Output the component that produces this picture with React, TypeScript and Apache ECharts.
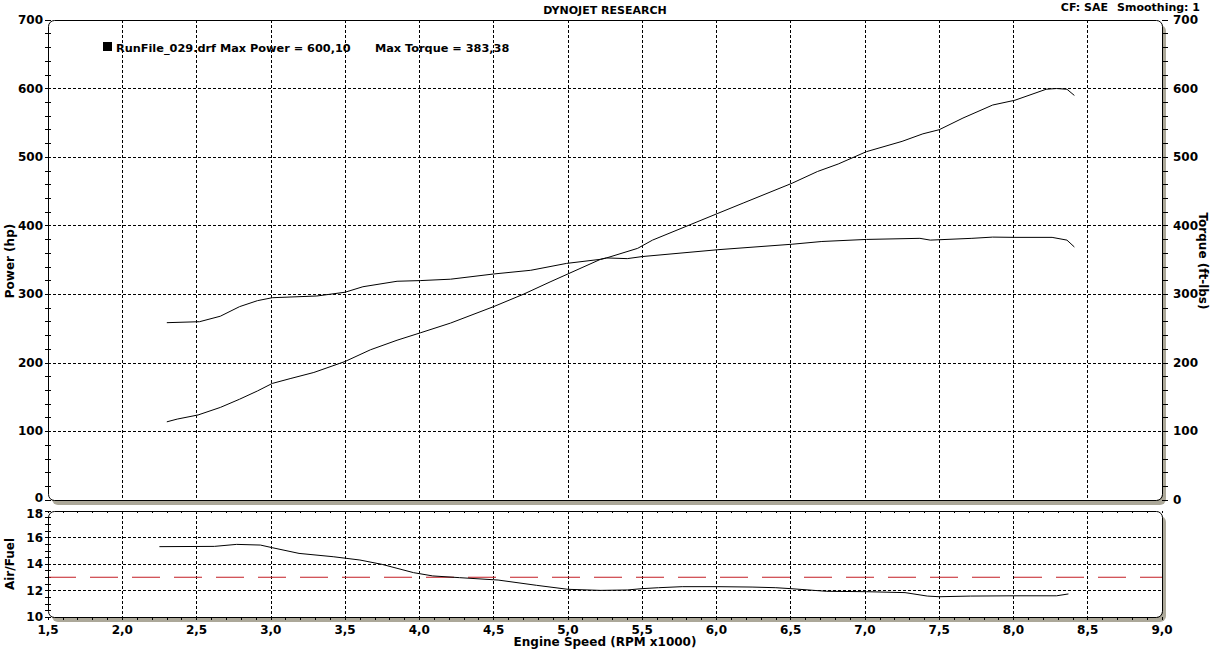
import React, { useEffect, useRef } from "react";
import * as echarts from "echarts";

// ---- data read from the dyno sheet ----
const rpmTicks = [1.5, 2.0, 2.5, 3.0, 3.5, 4.0, 4.5, 5.0, 5.5, 6.0, 6.5, 7.0, 7.5, 8.0, 8.5, 9.0];

const powerRpm = [2.30, 2.37, 2.51, 2.66, 2.79, 2.91, 3.01, 3.13, 3.29, 3.50, 3.67, 3.85, 4.01, 4.21, 4.50, 4.70, 4.88, 5.22, 5.26, 5.47, 5.57, 6.01, 6.18, 6.51, 6.68, 6.82, 7.01, 7.25, 7.39, 7.50, 7.66, 7.86, 8.01, 8.22, 8.29, 8.36, 8.41];
const powerHp = [114, 118, 124, 135, 147, 159, 170, 177, 186, 202, 219, 233, 244, 258, 282, 300, 318, 351, 353, 367, 379, 418, 433, 462, 479, 490, 508, 523, 534, 540, 557, 576, 583, 599, 600.1, 599, 590];

const torqueRpm = [2.30, 2.52, 2.66, 2.79, 2.91, 3.01, 3.31, 3.50, 3.62, 3.85, 4.01, 4.21, 4.50, 4.75, 4.99, 5.22, 5.26, 5.40, 5.50, 6.01, 6.51, 6.71, 7.01, 7.37, 7.44, 7.72, 7.86, 8.01, 8.26, 8.36, 8.41];
const torqueLbFt = [258.6, 260, 268, 282, 290.7, 295, 297.5, 303, 311, 319, 320, 322, 329.6, 335, 345, 351, 353, 352, 355, 365, 373, 377, 380, 381.6, 379, 381.6, 383.4, 383, 383, 379, 369];

const afrRpm = [2.25, 2.62, 2.77, 2.93, 3.01, 3.19, 3.42, 3.60, 3.75, 3.96, 4.09, 4.27, 4.53, 4.79, 5.00, 5.22, 5.40, 5.50, 5.61, 5.77, 6.01, 6.24, 6.40, 6.50, 6.74, 7.01, 7.27, 7.42, 7.50, 7.71, 8.00, 8.29, 8.37];
const afrValues = [15.31, 15.33, 15.48, 15.43, 15.23, 14.8, 14.55, 14.3, 13.97, 13.35, 13.1, 12.97, 12.79, 12.39, 12.09, 12.01, 12.04, 12.14, 12.21, 12.29, 12.29, 12.26, 12.21, 12.14, 11.94, 11.91, 11.84, 11.58, 11.53, 11.58, 11.6, 11.6, 11.74];

const afrTarget = 13;
const rpmRange = [1.5, 9.0];
const powerTorqueRange = [0, 700];
const afrRange = [10, 18];

const titleText = "DYNOJET RESEARCH";
const cfText = "CF: SAE";
const smoothingText = "Smoothing: 1";
const legendRun = "RunFile_029.drf Max Power = 600,10";
const legendTorque = "Max Torque = 383,38";

// ---- layout ----
const FONT = "DejaVu Sans";
const G0 = { left: 48, top: 20, width: 1114, height: 480 };
const G1 = { left: 48, top: 511, width: 1114, height: 106 };
const SHADOW = "#aca899";

const zip = (xs: number[], ys: number[]) => xs.map((x, i) => [x, ys[i]]);
const fmtRpm = (v: number) => v.toFixed(1).replace(".", ",");

const labelStyle = { color: "#000", fontFamily: FONT, fontWeight: "bold", fontSize: 12 };
const gridDash = { color: "#000", type: [3, 2], width: 1 };
const richFont = { fontFamily: FONT, fontWeight: "bold", fontSize: 12, color: "#000" };

function frame(g: { left: number; top: number; width: number; height: number }) {
  return [
    {
      type: "rect",
      z: -20,
      silent: true,
      shape: { x: g.left + 4, y: g.top + 5, width: g.width, height: g.height, r: 6 },
      style: { fill: SHADOW },
    },
    {
      type: "rect",
      z: -10,
      silent: true,
      shape: { x: g.left, y: g.top, width: g.width, height: g.height, r: 6 },
      style: { fill: "#fff" },
    },
    {
      type: "rect",
      z: 100,
      silent: true,
      shape: { x: g.left + 0.5, y: g.top + 0.5, width: g.width, height: g.height, r: 6 },
      style: { fill: "none", stroke: "#000", lineWidth: 1 },
    },
  ];
}

function text(x: number, y: number, t: string, align: string, size = 11, extra: any = {}) {
  return {
    type: "text",
    x,
    y,
    z: 110,
    silent: true,
    ...extra,
    style: {
      text: t,
      align,
      verticalAlign: "middle",
      fill: "#000",
      fontFamily: FONT,
      fontWeight: "bold",
      fontSize: size,
    },
  };
}

export default function App() {
  const ref = useRef<HTMLDivElement>(null);

  useEffect(() => {
    if (!ref.current) return;
    const chart = echarts.init(ref.current, null, { renderer: "svg" });

    const xBase = {
      type: "value",
      min: rpmRange[0],
      max: rpmRange[1],
      interval: 0.5,
      axisLine: { show: false },
    };

    const option: any = {
      animation: false,
      backgroundColor: "#fff",
      grid: [
        { ...G0, containLabel: false },
        { ...G1, containLabel: false },
      ],
      xAxis: [
        {
          ...xBase,
          gridIndex: 0,
          axisTick: { show: false },
          axisLabel: { show: false },
          splitLine: { show: true, showMinLine: false, showMaxLine: false, lineStyle: gridDash },
        },
        {
          ...xBase,
          gridIndex: 1,
          axisTick: { show: true, inside: false, length: 3, lineStyle: { color: "#000" } },
          minorTick: { show: true, splitNumber: 5, length: 3, lineStyle: { color: "#000" } },
          axisLabel: {
            ...labelStyle,
            margin: 7,
            showMinLabel: true,
            showMaxLabel: true,
            formatter: (v: number) => fmtRpm(v),
          },
          splitLine: { show: true, showMinLine: false, showMaxLine: false, lineStyle: gridDash },
        },
        {
          ...xBase,
          gridIndex: 1,
          axisTick: { show: true, inside: true, length: 2, lineStyle: { color: "#000" } },
          minorTick: { show: true, splitNumber: 5, length: 2, lineStyle: { color: "#000" } },
          axisLabel: { show: false },
          splitLine: { show: false },
        },
      ],
      yAxis: [
        {
          type: "value",
          gridIndex: 0,
          position: "left",
          min: powerTorqueRange[0],
          max: powerTorqueRange[1],
          interval: 100,
          axisLine: { show: false },
          axisTick: { show: true, inside: false, length: 3, lineStyle: { color: "#000" } },
          minorTick: { show: true, splitNumber: 5, length: 3, lineStyle: { color: "#000" } },
          axisLabel: {
            ...labelStyle,
            margin: 5,
            showMinLabel: true,
            showMaxLabel: true,
            formatter: (v: number) => (v === powerTorqueRange[0] ? `{lo|${v}}` : `${v}`),
            rich: { lo: { ...richFont, padding: [0, 0, 5, 0] } },
          },
          splitLine: { show: true, showMinLine: false, showMaxLine: false, lineStyle: gridDash },
        },
        {
          type: "value",
          gridIndex: 0,
          position: "left",
          min: powerTorqueRange[0],
          max: powerTorqueRange[1],
          interval: 100,
          axisLine: { show: false },
          axisTick: { show: true, inside: true, length: 3, lineStyle: { color: "#000" } },
          minorTick: { show: true, splitNumber: 5, length: 3, lineStyle: { color: "#000" } },
          axisLabel: { show: false },
          splitLine: { show: false },
        },
        {
          type: "value",
          gridIndex: 0,
          position: "right",
          min: powerTorqueRange[0],
          max: powerTorqueRange[1],
          interval: 100,
          axisLine: { show: false },
          axisTick: { show: true, inside: false, length: 6, lineStyle: { color: "#000" } },
          minorTick: { show: true, splitNumber: 5, length: 6, lineStyle: { color: "#000" } },
          axisLabel: { ...labelStyle, margin: 11, showMinLabel: true, showMaxLabel: true },
          splitLine: { show: false },
        },
        {
          type: "value",
          gridIndex: 1,
          position: "left",
          min: afrRange[0],
          max: afrRange[1],
          interval: 2,
          axisLine: { show: false },
          axisTick: { show: true, inside: false, length: 3, lineStyle: { color: "#000" } },
          minorTick: { show: true, splitNumber: 4, length: 3, lineStyle: { color: "#000" } },
          axisLabel: {
            ...labelStyle,
            margin: 5,
            showMinLabel: true,
            showMaxLabel: true,
            formatter: (v: number) => (v === afrRange[1] ? `{hi|${v}}` : `${v}`),
            rich: { hi: { ...richFont, padding: [5, 0, 0, 0] } },
          },
          splitLine: { show: true, showMinLine: false, showMaxLine: false, lineStyle: gridDash },
        },
        {
          type: "value",
          gridIndex: 1,
          position: "left",
          min: afrRange[0],
          max: afrRange[1],
          interval: 2,
          axisLine: { show: false },
          axisTick: { show: true, inside: true, length: 3, lineStyle: { color: "#000" } },
          minorTick: { show: true, splitNumber: 4, length: 3, lineStyle: { color: "#000" } },
          axisLabel: { show: false },
          splitLine: { show: false },
        },
      ],
      series: [
        {
          name: "Power",
          type: "line",
          xAxisIndex: 0,
          yAxisIndex: 0,
          data: zip(powerRpm, powerHp),
          showSymbol: false,
          lineStyle: { color: "#000", width: 1 },
          itemStyle: { color: "#000" },
          z: 5,
        },
        {
          name: "Torque",
          type: "line",
          xAxisIndex: 0,
          yAxisIndex: 2,
          data: zip(torqueRpm, torqueLbFt),
          showSymbol: false,
          lineStyle: { color: "#000", width: 1 },
          itemStyle: { color: "#000" },
          z: 5,
        },
        {
          name: "Target A/F",
          type: "line",
          xAxisIndex: 1,
          yAxisIndex: 3,
          data: [
            [rpmRange[0], afrTarget],
            [rpmRange[1], afrTarget],
          ],
          showSymbol: false,
          lineStyle: { color: "#c41e24", width: 1.2, type: [28, 14] },
          itemStyle: { color: "#c41e24" },
          z: 4,
        },
        {
          name: "Air/Fuel",
          type: "line",
          xAxisIndex: 1,
          yAxisIndex: 3,
          data: zip(afrRpm, afrValues),
          showSymbol: false,
          lineStyle: { color: "#000", width: 1 },
          itemStyle: { color: "#000" },
          z: 5,
        },
      ],
      graphic: [
        ...frame(G0),
        ...frame(G1),
        text(605, 10, titleText, "center"),
        text(1108, 7, cfText, "right"),
        text(1200, 7, smoothingText, "right"),
        {
          type: "rect",
          z: 110,
          silent: true,
          shape: { x: 103, y: 42, width: 9, height: 9 },
          style: { fill: "#000" },
        },
        text(116, 48, legendRun, "left", 11.3),
        text(375, 48, legendTorque, "left", 11.3),
        text(10, 261, "Power (hp)", "center", 12, { rotation: Math.PI / 2 }),
        text(1203, 261, "Torque (ft-lbs)", "center", 12, { rotation: -Math.PI / 2 }),
        text(10, 564, "Air/Fuel", "center", 12, { rotation: Math.PI / 2 }),
        text(605, 642, "Engine Speed (RPM x1000)", "center", 12),
      ],
    };

    chart.setOption(option);
    return () => chart.dispose();
  }, []);

  return (
    <div
      ref={ref}
      style={{ position: "fixed", left: 0, top: 0, width: 1211, height: 649, background: "#fff" }}
    />
  );
}
